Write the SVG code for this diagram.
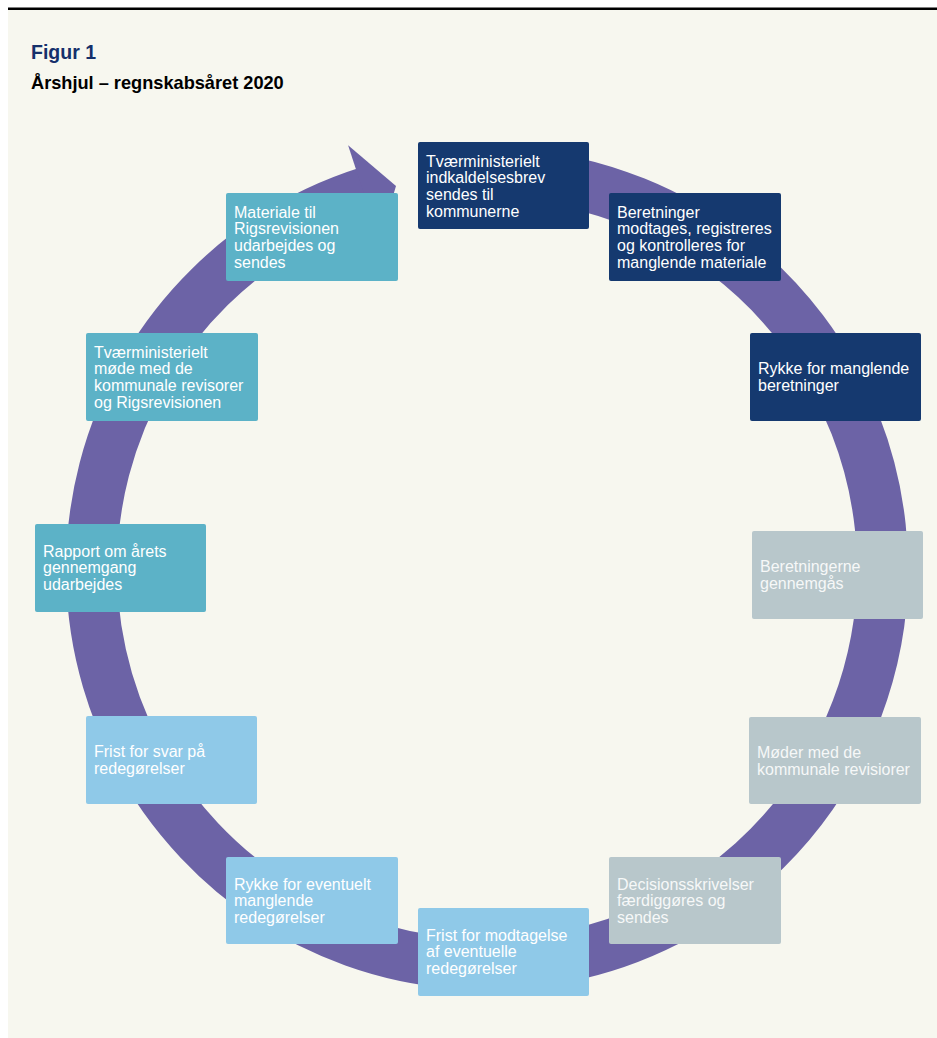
<svg xmlns="http://www.w3.org/2000/svg" width="937" height="1038" viewBox="0 0 937 1038">
<style>
.bg{fill:#f7f7ef}
.box{stroke:none}
.navy{fill:#15396f}
.grey{fill:#b8c7cb}
.teal{fill:#5cb2c7}
.light{fill:#8fc9e8}
.lbl{font-family:"Liberation Sans",Arial,sans-serif;font-size:16px;fill:#ffffff}
.lblg{font-family:"Liberation Sans",Arial,sans-serif;font-size:16px;fill:#f6f8f8}
.ring{fill:none;stroke:#6c63a6;stroke-width:51}
.head{fill:#6c63a6}
</style>
<rect x="0" y="0" width="937" height="1038" fill="#ffffff"/>
<rect class="bg" x="8" y="10" width="929" height="1028"/>
<rect x="8" y="7.5" width="929" height="2.5" fill="#000000"/>
<text x="31" y="59" font-family="Liberation Sans,Arial,sans-serif" font-weight="bold" font-size="19.5" fill="#15306b">Figur 1</text>
<text x="31" y="89" font-family="Liberation Sans,Arial,sans-serif" font-weight="bold" font-size="18.2" fill="#000000">Årshjul – regnskabsåret 2020</text>
<g id="connectors">
<path class="ring" d="M 452.53 175.0 A 395.5 395.5 0 1 1 368.1 191.8"/>
<polygon class="head" points="348.1,145.2 396,186 379.5,241.2"/>
</g>
<g id="n1">
<rect class="box navy" x="418" y="142" width="171" height="87" rx="2"/>
<text class="lbl" x="426" y="166.5"><tspan x="426">Tværministerielt</tspan><tspan x="426" dy="16.7">indkaldelsesbrev</tspan><tspan x="426" dy="16.7">sendes til</tspan><tspan x="426" dy="16.7">kommunerne</tspan></text>
</g>
<g id="n2">
<rect class="box navy" x="609" y="193" width="172" height="88" rx="2"/>
<text class="lbl" x="617" y="217.5"><tspan x="617">Beretninger</tspan><tspan x="617" dy="16.7">modtages, registreres</tspan><tspan x="617" dy="16.7">og kontrolleres for</tspan><tspan x="617" dy="16.7">manglende materiale</tspan></text>
</g>
<g id="n3">
<rect class="box navy" x="750" y="333" width="171" height="88" rx="2"/>
<text class="lbl" x="758" y="374.2"><tspan x="758">Rykke for manglende</tspan><tspan x="758" dy="16.7">beretninger</tspan></text>
</g>
<g id="n4">
<rect class="box grey" x="752" y="531" width="171" height="88" rx="2"/>
<text class="lblg" x="760" y="572.2"><tspan x="760">Beretningerne</tspan><tspan x="760" dy="16.7">gennemgås</tspan></text>
</g>
<g id="n5">
<rect class="box grey" x="749" y="717" width="172" height="87" rx="2"/>
<text class="lblg" x="757" y="758.2"><tspan x="757">Møder med de</tspan><tspan x="757" dy="16.7">kommunale revisiorer</tspan></text>
</g>
<g id="n6">
<rect class="box grey" x="609" y="857" width="172" height="87" rx="2"/>
<text class="lblg" x="617" y="889.5"><tspan x="617">Decisionsskrivelser</tspan><tspan x="617" dy="16.7">færdiggøres og</tspan><tspan x="617" dy="16.7">sendes</tspan></text>
</g>
<g id="n7">
<rect class="box light" x="418" y="908" width="171" height="88" rx="2"/>
<text class="lbl" x="426" y="940.5"><tspan x="426">Frist for modtagelse</tspan><tspan x="426" dy="16.7">af eventuelle</tspan><tspan x="426" dy="16.7">redegørelser</tspan></text>
</g>
<g id="n8">
<rect class="box light" x="226" y="857" width="172" height="87" rx="2"/>
<text class="lbl" x="234" y="889.5"><tspan x="234">Rykke for eventuelt</tspan><tspan x="234" dy="16.7">manglende</tspan><tspan x="234" dy="16.7">redegørelser</tspan></text>
</g>
<g id="n9">
<rect class="box light" x="86" y="716" width="171" height="88" rx="2"/>
<text class="lbl" x="94" y="757.2"><tspan x="94">Frist for svar på</tspan><tspan x="94" dy="16.7">redegørelser</tspan></text>
</g>
<g id="n10">
<rect class="box teal" x="35" y="524" width="171" height="88" rx="2"/>
<text class="lbl" x="43" y="556.5"><tspan x="43">Rapport om årets</tspan><tspan x="43" dy="16.7">gennemgang</tspan><tspan x="43" dy="16.7">udarbejdes</tspan></text>
</g>
<g id="n11">
<rect class="box teal" x="86" y="333" width="172" height="88" rx="2"/>
<text class="lbl" x="94" y="357.5"><tspan x="94">Tværministerielt</tspan><tspan x="94" dy="16.7">møde med de</tspan><tspan x="94" dy="16.7">kommunale revisorer</tspan><tspan x="94" dy="16.7">og Rigsrevisionen</tspan></text>
</g>
<g id="n12">
<rect class="box teal" x="226" y="193" width="172" height="88" rx="2"/>
<text class="lbl" x="234" y="217.5"><tspan x="234">Materiale til</tspan><tspan x="234" dy="16.7">Rigsrevisionen</tspan><tspan x="234" dy="16.7">udarbejdes og</tspan><tspan x="234" dy="16.7">sendes</tspan></text>
</g>
</svg>
